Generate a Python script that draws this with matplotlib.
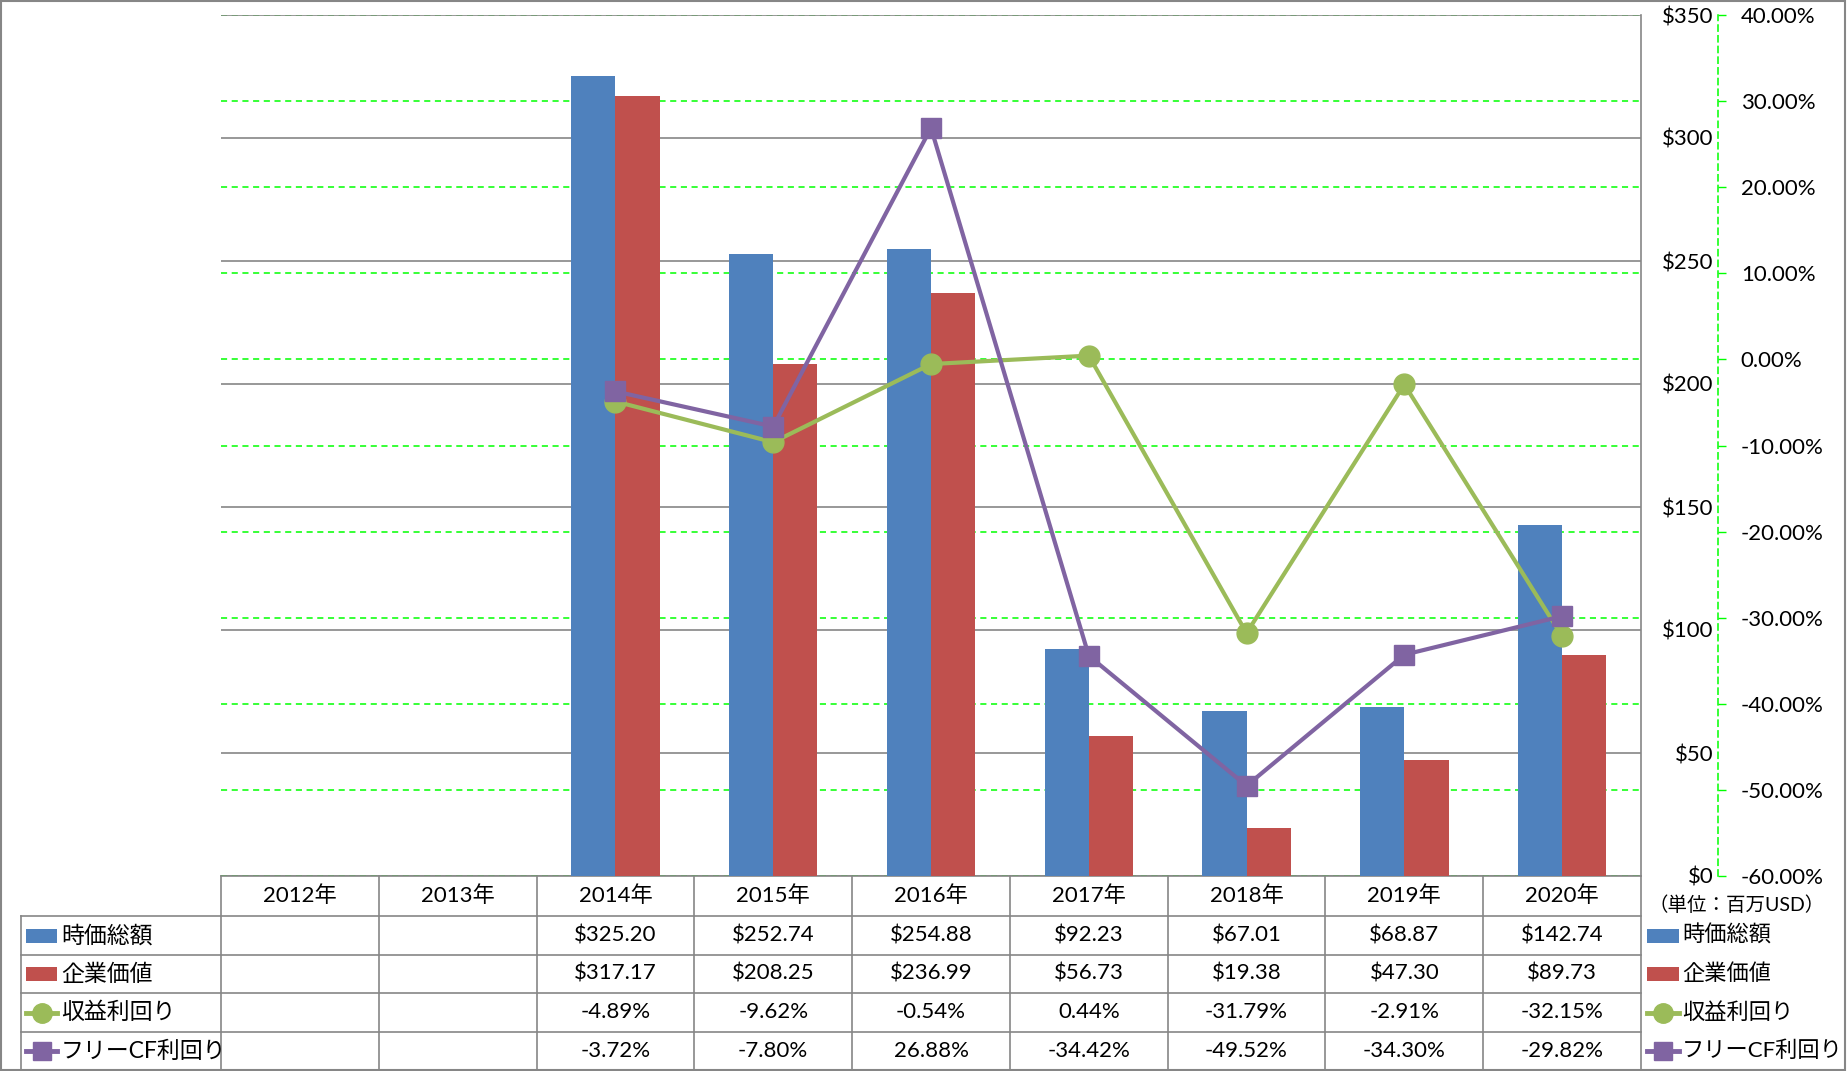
import numpy as np
import matplotlib
matplotlib.use("Agg")
import matplotlib.pyplot as plt
from matplotlib.transforms import blended_transform_factory
from matplotlib.lines import Line2D
from matplotlib.patches import Rectangle

plt.rcParams['font.family'] = ['Lato', 'Noto Sans CJK JP', 'DejaVu Sans']

# ---------------- data ----------------
years = ["2012年", "2013年", "2014年", "2015年", "2016年", "2017年", "2018年", "2019年", "2020年"]
market_cap = [np.nan, np.nan, 325.20, 252.74, 254.88, 92.23, 67.01, 68.87, 142.74]
enterprise_value = [np.nan, np.nan, 317.17, 208.25, 236.99, 56.73, 19.38, 47.30, 89.73]
earnings_yield = [np.nan, np.nan, -4.89, -9.62, -0.54, 0.44, -31.79, -2.91, -32.15]
fcf_yield = [np.nan, np.nan, -3.72, -7.80, 26.88, -34.42, -49.52, -34.30, -29.82]
series_names = ["時価総額", "企業価値", "収益利回り", "フリーCF利回り"]
usd_ticks = [0, 50, 100, 150, 200, 250, 300, 350]
pct_ticks = [-60, -50, -40, -30, -20, -10, 0, 10, 20, 30, 40]
unit_label = "（単位：百万USD）"

BLUE, RED, GREEN, PURPLE = "#4F81BD", "#C0504D", "#9BBB59", "#8064A2"
GRAY = "#868686"
LIME = "#00FF00"

W, H = 1847, 1071
fig = plt.figure(figsize=(W / 100, H / 100), dpi=100)
fig.patch.set_facecolor("white")

PL, PR, PT, PB = 221, 1641, 15, 876
rect = [PL / W, 1 - PB / H, (PR - PL) / W, (PB - PT) / H]

# pixel-space overlay for table & frame
tax = fig.add_axes([0, 0, 1, 1], zorder=0)
tax.set_xlim(0, W)
tax.set_ylim(H, 0)
tax.axis("off")

# green percentage grid (behind bars)
gax = fig.add_axes(rect, zorder=1)
gax.set_xlim(-0.5, len(years) - 0.5)
gax.set_ylim(pct_ticks[0], pct_ticks[-1])
gax.set_yticks(pct_ticks)
gax.grid(axis="y", color=LIME, linestyle=(0, (4, 3)), linewidth=1.1)
gax.tick_params(left=False, labelleft=False, bottom=False, labelbottom=False)
for s in gax.spines.values():
    s.set_visible(False)
gax.patch.set_visible(False)

# main bar axes
ax = fig.add_axes(rect, zorder=2)
ax.patch.set_visible(False)
x = np.arange(len(years))
bw = 0.28
ax.bar(x - bw / 2, market_cap, bw, color=BLUE, zorder=3)
ax.bar(x + bw / 2, enterprise_value, bw, color=RED, zorder=3)
ax.set_xlim(-0.5, len(years) - 0.5)
ax.set_ylim(usd_ticks[0], usd_ticks[-1])
ax.set_xticks([])
ax.grid(axis="y", color=GRAY, linewidth=1.2)
ax.set_axisbelow(True)

# percentage axes with lines
ax2 = ax.twinx()
ax2.set_zorder(3)
ax2.patch.set_visible(False)
ax2.set_ylim(pct_ticks[0], pct_ticks[-1])
ax2.plot(x, earnings_yield, color=GREEN, lw=3, marker="o", ms=15, zorder=4)
ax2.plot(x, fcf_yield, color=PURPLE, lw=3, marker="s", ms=14, zorder=5)
ax2.set_yticks(pct_ticks)
ax2.set_yticklabels([f"{p:.2f}%" for p in pct_ticks])
for lab, p in zip(ax2.get_yticklabels(), pct_ticks):
    lab.set_color("red" if p < 0 else "black")
ax2.tick_params(axis="y", direction="out", length=6, color=LIME, width=1, pad=10.5, labelsize=16)
for k, s in ax2.spines.items():
    s.set_visible(k == "right")
ax2.spines["right"].set_position(("outward", 55.4))
ax2.spines["right"].set_color(LIME)
ax2.spines["right"].set_linestyle((0, (4, 3)))
ax2.spines["right"].set_linewidth(1.1)

# dollar labels on the right of the plot (after twinx, which resets tick side)
ax.set_yticks(usd_ticks)
ax.set_yticklabels([f"${v}" for v in usd_ticks])
ax.yaxis.set_ticks_position("right")
ax.yaxis.set_label_position("right")
ax.tick_params(axis="y", left=False, labelleft=False, right=True, labelright=True,
               length=0, pad=52.5, labelsize=16)
for lab in ax.get_yticklabels(which="both"):
    lab.set_horizontalalignment("right")
for t in ax.yaxis.get_major_ticks():
    t.label2.set_horizontalalignment("right")
for k, s in ax.spines.items():
    s.set_visible(k == "right")
ax.spines["right"].set_color(GRAY)
ax.spines["right"].set_linewidth(1.2)

# ---------------- data table ----------------
ROWS = [876, 916, 955, 993, 1032, 1070]
LEFT = 21
bt = blended_transform_factory(ax.transData, tax.transData)
lkw = dict(color=GRAY, lw=1.2)
tax.plot([PL, PR], [ROWS[0], ROWS[0]], **lkw)
for yy in ROWS[1:]:
    tax.plot([LEFT, PR], [yy, yy], **lkw)
tax.plot([LEFT, LEFT], [ROWS[1], ROWS[-1]], **lkw)
for i in range(len(years) + 1):
    tax.plot([i - 0.5, i - 0.5], [ROWS[0], ROWS[-1]], transform=bt, **lkw)

def rc(r):
    return (ROWS[r] + ROWS[r + 1]) / 2

for i, yname in enumerate(years):
    tax.text(i, rc(0), yname, transform=bt, ha="center", va="center", fontsize=16)
table_rows = [
    [None if np.isnan(v) else f"${v:.2f}" for v in market_cap],
    [None if np.isnan(v) else f"${v:.2f}" for v in enterprise_value],
    [None if np.isnan(v) else f"{v:.2f}%" for v in earnings_yield],
    [None if np.isnan(v) else f"{v:.2f}%" for v in fcf_yield],
]
for r, row in enumerate(table_rows):
    for i, s in enumerate(row):
        if s is not None:
            tax.text(i, rc(r + 1), s, transform=bt, ha="center", va="center", fontsize=16)

def legend_key(x0, x1, yc, kind, color):
    if kind == "bar":
        tax.add_patch(Rectangle((x0, yc - 7), x1 - x0, 14, color=color, lw=0))
    else:
        mk = "o" if kind == "o" else "s"
        tax.add_line(Line2D([x0, x1], [yc, yc], color=color, lw=3.5))
        tax.add_line(Line2D([(x0 + x1) / 2], [yc], color=color, marker=mk, ms=14 if mk == "o" else 13, lw=0))

kinds = [("bar", BLUE), ("bar", RED), ("o", GREEN), ("s", PURPLE)]
for r, (name, (kind, col)) in enumerate(zip(series_names, kinds)):
    yc = rc(r + 1)
    legend_key(26, 57, yc, kind, col)
    tax.text(61, yc, name, ha="left", va="center", fontsize=16.5)
    legend_key(1647, 1679, yc, kind, col)
    tax.text(1682, yc, name, ha="left", va="center", fontsize=16)

tax.text(1737, 905, unit_label, ha="center", va="center", fontsize=14)

tax.add_patch(Rectangle((0.5, 0.5), 1844, 1069.5, fill=False, edgecolor=GRAY, lw=1.5))

fig.savefig("out.png", dpi=100, facecolor="white")
